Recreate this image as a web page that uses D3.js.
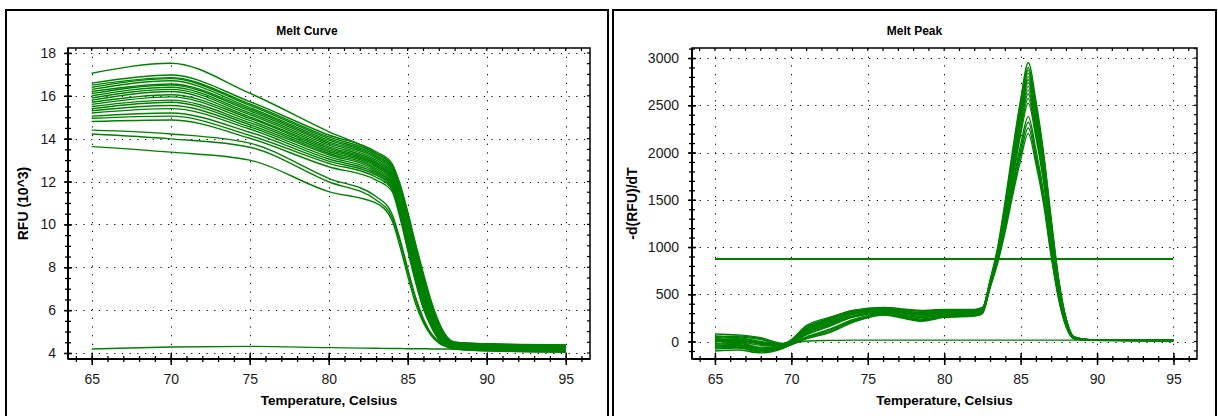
<!DOCTYPE html>
<html lang="en">
<head>
  <meta charset="UTF-8">
  <title>Melt Curve / Melt Peak</title>
  <script src="https://d3js.org/d3.v7.min.js"></script>
  <style>
    body { margin: 0; background: #fff; }
    svg { display: block; }
    text { font-family: "Liberation Sans", Arial, sans-serif; }
  </style>
</head>
<body>
  <div id="chart"></div>
<script type="text/javascript">
  // ---- Melt curve data (RFU x 10^3), one row per well ----
  var meltTemps = [65, 70, 75, 80, 83, 84, 84.5, 85, 85.5, 86, 86.5, 87, 87.5, 88, 90, 95];
  var meltWells = [
    [17.05, 17.52, 16.12, 14.33, 13.32, 12.75, 11.9, 10.6, 9.1, 7.7, 6.4, 5.4, 4.75, 4.5, 4.42, 4.36],
    [16.59, 16.97, 15.73, 14.17, 13.39, 12.85, 11.9, 10.5, 9.0, 7.6, 6.3, 5.3, 4.7, 4.5, 4.43, 4.38],
    [16.5, 16.85, 15.62, 14.08, 13.3, 12.75, 11.8, 10.4, 8.9, 7.5, 6.2, 5.25, 4.68, 4.48, 4.41, 4.36],
    [16.4, 16.8, 15.55, 14.0, 13.22, 12.68, 11.7, 10.3, 8.8, 7.4, 6.15, 5.2, 4.65, 4.46, 4.4, 4.34],
    [16.3, 16.7, 15.45, 13.93, 13.15, 12.6, 11.6, 10.2, 8.7, 7.3, 6.1, 5.15, 4.62, 4.44, 4.38, 4.32],
    [16.2, 16.55, 15.38, 13.85, 13.08, 12.52, 11.5, 10.05, 8.55, 7.2, 6.0, 5.1, 4.6, 4.42, 4.36, 4.3],
    [16.1, 16.5, 15.3, 13.78, 13.0, 12.45, 11.45, 10.0, 8.5, 7.15, 5.95, 5.05, 4.57, 4.4, 4.34, 4.29],
    [16.0, 16.4, 15.2, 13.7, 12.92, 12.37, 11.35, 9.9, 8.4, 7.05, 5.9, 5.0, 4.55, 4.38, 4.32, 4.27],
    [15.9, 16.3, 15.12, 13.62, 12.86, 12.3, 11.3, 9.85, 8.3, 6.95, 5.8, 4.95, 4.52, 4.37, 4.31, 4.26],
    [15.8, 16.2, 15.02, 13.55, 12.8, 12.24, 11.2, 9.7, 8.2, 6.9, 5.75, 4.9, 4.5, 4.35, 4.3, 4.25],
    [15.7, 16.05, 14.95, 13.48, 12.74, 12.18, 11.15, 9.65, 8.1, 6.8, 5.7, 4.88, 4.48, 4.34, 4.28, 4.23],
    [15.6, 15.95, 14.85, 13.4, 12.68, 12.1, 11.05, 9.55, 8.0, 6.7, 5.6, 4.83, 4.45, 4.32, 4.27, 4.22],
    [15.5, 15.8, 14.75, 13.32, 12.6, 12.03, 10.95, 9.45, 7.9, 6.6, 5.55, 4.8, 4.43, 4.3, 4.25, 4.2],
    [15.4, 15.7, 14.65, 13.25, 12.52, 11.95, 10.85, 9.35, 7.8, 6.5, 5.5, 4.75, 4.4, 4.28, 4.23, 4.18],
    [15.3, 15.55, 14.55, 13.15, 12.45, 11.88, 10.75, 9.2, 7.7, 6.45, 5.45, 4.72, 4.38, 4.26, 4.21, 4.16],
    [15.2, 15.4, 14.45, 13.05, 12.38, 11.8, 10.65, 9.1, 7.6, 6.35, 5.4, 4.7, 4.36, 4.25, 4.2, 4.14],
    [15.05, 15.2, 14.3, 12.95, 12.3, 11.72, 10.55, 9.0, 7.5, 6.25, 5.3, 4.65, 4.34, 4.23, 4.18, 4.12],
    [14.95, 15.05, 14.15, 12.85, 12.2, 11.65, 10.45, 8.9, 7.4, 6.15, 5.25, 4.62, 4.32, 4.22, 4.16, 4.1],
    [14.8, 14.87, 14.02, 12.69, 12.07, 11.55, 10.35, 8.8, 7.3, 6.05, 5.2, 4.6, 4.3, 4.2, 4.14, 4.08],
    [14.4, 14.22, 13.79, 12.15, 11.3, 10.5, 9.35, 7.95, 6.6, 5.6, 4.9, 4.52, 4.3, 4.2, 4.12, 4.06],
    [14.22, 13.99, 13.6, 11.99, 11.14, 10.35, 9.2, 7.8, 6.5, 5.5, 4.85, 4.5, 4.3, 4.18, 4.1, 4.05],
    [13.63, 13.37, 13.0, 11.53, 10.99, 10.2, 9.0, 7.6, 6.3, 5.4, 4.8, 4.45, 4.28, 4.18, 4.1, 4.04]
  ];
  // no-template control, stays flat
  var meltNTC = [4.19, 4.28, 4.31, 4.25, 4.22, 4.21, 4.21, 4.2, 4.2, 4.2, 4.19, 4.19, 4.19, 4.18, 4.17, 4.15];

  // ---- Melt peak data, -d(RFU)/dT ----
  var peakTemps = [65, 66.5, 68, 69.5, 71, 72.5, 74, 76, 78.5, 80, 82, 82.5, 83, 83.5, 84, 84.5, 85, 85.5, 86, 86.5, 87, 87.5, 88, 88.5, 89.5, 95];
  var peakWells = [
    [60, 50, 20, -40, 150, 250, 330, 360, 330, 340, 340, 360, 620, 950, 1450, 2000, 2550, 2950, 2550, 2000, 1300, 650, 230, 50, 20, 15],
    [-80, -70, -110, -60, 170, 255, 320, 350, 320, 330, 330, 350, 650, 1000, 1500, 2050, 2550, 2900, 2480, 1950, 1250, 620, 220, 45, 18, 12],
    [40, 60, 30, -30, 140, 240, 320, 355, 325, 335, 320, 340, 580, 900, 1400, 1950, 2500, 2870, 2500, 1980, 1280, 640, 225, 48, 20, 14],
    [-100, -90, -120, -70, 120, 220, 310, 340, 300, 320, 325, 345, 640, 980, 1460, 1980, 2480, 2840, 2420, 1900, 1200, 590, 200, 42, 18, 10],
    [80, 70, 40, -20, 160, 240, 325, 350, 310, 330, 335, 355, 610, 940, 1420, 1940, 2450, 2800, 2430, 1920, 1230, 610, 215, 45, 19, 13],
    [-50, -40, -90, -60, 130, 230, 300, 340, 300, 310, 320, 340, 600, 920, 1390, 1900, 2420, 2770, 2400, 1880, 1190, 590, 205, 42, 17, 11],
    [20, 30, -10, -45, 120, 210, 300, 330, 290, 305, 315, 340, 630, 950, 1420, 1910, 2400, 2740, 2360, 1850, 1160, 570, 200, 40, 16, 10],
    [-20, -10, -60, -50, 110, 200, 290, 325, 280, 300, 300, 325, 590, 900, 1360, 1850, 2350, 2700, 2330, 1830, 1150, 560, 195, 40, 17, 12],
    [50, 40, 0, -35, 100, 190, 285, 320, 285, 300, 310, 335, 620, 930, 1370, 1850, 2330, 2660, 2280, 1790, 1120, 550, 190, 38, 16, 11],
    [-70, -60, -100, -65, 90, 180, 270, 310, 270, 290, 300, 325, 600, 900, 1340, 1810, 2290, 2620, 2250, 1760, 1100, 540, 185, 38, 15, 10],
    [0, 10, -30, -50, 80, 170, 260, 305, 260, 285, 295, 320, 580, 880, 1310, 1770, 2240, 2570, 2200, 1720, 1080, 530, 180, 36, 15, 9],
    [-40, -30, -80, -60, 70, 160, 255, 300, 255, 280, 290, 315, 570, 860, 1280, 1730, 2190, 2520, 2160, 1690, 1060, 520, 175, 35, 14, 9],
    [30, 20, -20, -45, 50, 130, 230, 300, 240, 270, 285, 310, 600, 880, 1260, 1680, 2080, 2380, 2030, 1580, 980, 470, 160, 32, 14, 10],
    [-60, -50, -90, -60, 40, 120, 220, 290, 230, 265, 280, 305, 590, 860, 1230, 1640, 2030, 2320, 1980, 1540, 950, 460, 155, 30, 13, 9],
    [10, 0, -40, -50, 35, 105, 210, 285, 220, 260, 275, 300, 580, 850, 1200, 1600, 1980, 2260, 1930, 1500, 930, 450, 150, 30, 13, 9],
    [-30, -20, -70, -55, 30, 95, 200, 280, 215, 255, 270, 295, 570, 830, 1170, 1560, 1920, 2200, 1880, 1460, 900, 440, 145, 28, 12, 8]
  ];
  var peakNTC = [0, 5, -15, -30, 5, 12, 15, 15, 15, 15, 15, 15, 15, 15, 15, 15, 15, 15, 15, 15, 15, 15, 15, 15, 15, 12];
  var peakThreshold = 873;

  // ---- ticks ----
  var xMajorTicks = [65, 70, 75, 80, 85, 90, 95];
  var meltYTicks = [4, 6, 8, 10, 12, 14, 16, 18];
  var peakYTicks = [0, 500, 1000, 1500, 2000, 2500, 3000];

  var green = "#008000";
  var svg = d3.select("#chart").append("svg").attr("width", 1218).attr("height", 416);

  function drawPanel(c) {
    var g = svg.append("g");

    // outer panel border (runs off the bottom of the window)
    g.append("rect")
      .attr("x", c.box[0]).attr("y", c.box[1])
      .attr("width", c.box[2] - c.box[0]).attr("height", 460)
      .attr("fill", "none").attr("stroke", "#000").attr("stroke-width", 2);

    var x = d3.scaleLinear().domain([63.5, 96.54]).range([c.left, c.right]);
    var y = d3.scaleLinear().domain(c.yDomain).range([c.bottom, c.top]);

    g.append("text")
      .attr("x", (c.box[0] + c.box[2]) / 2).attr("y", 35)
      .attr("text-anchor", "middle").attr("font-size", 12).attr("font-weight", "bold")
      .text(c.title);

    // dotted grid
    g.selectAll(".hgrid").data(c.yTicks).enter().append("line")
      .attr("x1", c.left).attr("x2", c.right)
      .attr("y1", function (d) { return Math.round(y(d)) + 0.5; })
      .attr("y2", function (d) { return Math.round(y(d)) + 0.5; })
      .attr("stroke", "#000").attr("stroke-dasharray", "1.2,6.5");
    g.selectAll(".vgrid").data(xMajorTicks).enter().append("line")
      .attr("y1", c.top).attr("y2", c.bottom)
      .attr("x1", function (d) { return Math.round(x(d)) + 0.5; })
      .attr("x2", function (d) { return Math.round(x(d)) + 0.5; })
      .attr("stroke", "#000").attr("stroke-dasharray", "1.2,7.5");

    var line = d3.line()
      .x(function (d, i) { return x(c.temps[i]); })
      .y(function (d) { return y(d); })
      .curve(d3.curveMonotoneX);

    g.selectAll(".well").data(c.wells.concat([c.ntc])).enter().append("path")
      .attr("d", line)
      .attr("fill", "none").attr("stroke", green)
      .attr("stroke-width", 1.4);

    if (c.threshold !== undefined) {
      g.append("line")
        .attr("x1", x(65)).attr("x2", x(95))
        .attr("y1", y(c.threshold)).attr("y2", y(c.threshold))
        .attr("stroke", green).attr("stroke-width", 2);
    }

    // plot frame
    g.append("rect")
      .attr("x", c.left).attr("y", c.top)
      .attr("width", c.right - c.left).attr("height", c.bottom - c.top)
      .attr("fill", "none").attr("stroke", "#000").attr("stroke-width", 1.5);

    // inward minor ticks on top and right edges
    g.selectAll(".topTick").data(d3.range(64, 97)).enter().append("line")
      .attr("x1", function (d) { return x(d); }).attr("x2", function (d) { return x(d); })
      .attr("y1", c.top).attr("y2", c.top + 3)
      .attr("stroke", "#000").attr("stroke-width", 1.2);
    g.selectAll(".rightTick").data(c.yMinor).enter().append("line")
      .attr("y1", function (d) { return y(d); }).attr("y2", function (d) { return y(d); })
      .attr("x1", c.right).attr("x2", c.right - 3)
      .attr("stroke", "#000").attr("stroke-width", 1.2);

    // bottom axis: minor ticks then majors with labels
    var xMinorAxis = g.append("g").attr("transform", "translate(0," + c.bottom + ")")
      .call(d3.axisBottom(x).tickValues(d3.range(64, 97)).tickSize(3).tickFormat(""));
    xMinorAxis.select(".domain").remove();
    xMinorAxis.selectAll(".tick line").attr("y1", -3).attr("stroke-width", 1.3);

    var xAxis = g.append("g").attr("transform", "translate(0," + c.bottom + ")")
      .call(d3.axisBottom(x).tickValues(xMajorTicks).tickSize(6).tickPadding(9).tickFormat(d3.format("d")));
    xAxis.select(".domain").remove();
    xAxis.selectAll(".tick line").attr("y1", -6).attr("stroke-width", 1.5);
    xAxis.selectAll("text").attr("font-size", 14).attr("fill", "#1a1a1a")
      .attr("font-family", "'Liberation Sans', Arial, sans-serif");

    // left axis
    var yMinorAxis = g.append("g").attr("transform", "translate(" + c.left + ",0)")
      .call(d3.axisLeft(y).tickValues(c.yMinor).tickSize(3).tickFormat(""));
    yMinorAxis.select(".domain").remove();
    yMinorAxis.selectAll(".tick line").attr("x1", 3).attr("stroke-width", 1.3);

    var yAxis = g.append("g").attr("transform", "translate(" + c.left + ",0)")
      .call(d3.axisLeft(y).tickValues(c.yTicks).tickSize(4).tickPadding(c.yPad).tickFormat(d3.format("d")));
    yAxis.select(".domain").remove();
    yAxis.selectAll(".tick line").attr("x1", 4).attr("stroke-width", 1.5);
    yAxis.selectAll("text").attr("font-size", 14).attr("fill", "#1a1a1a")
      .attr("font-family", "'Liberation Sans', Arial, sans-serif");

    // heavier axis lines
    g.append("line").attr("x1", c.left).attr("x2", c.right).attr("y1", c.bottom).attr("y2", c.bottom)
      .attr("stroke", "#000").attr("stroke-width", 2);
    g.append("line").attr("x1", c.left).attr("x2", c.left).attr("y1", c.top).attr("y2", c.bottom)
      .attr("stroke", "#000").attr("stroke-width", 2);

    // axis titles
    g.append("text")
      .attr("x", (c.left + c.right) / 2).attr("y", 405)
      .attr("text-anchor", "middle").attr("font-size", 13.5).attr("font-weight", "bold")
      .text("Temperature, Celsius");
    g.append("text")
      .attr("transform", "translate(" + c.yTitleX + "," + (c.top + c.bottom) / 2 + ") rotate(-90)")
      .attr("text-anchor", "middle").attr("font-size", 14).attr("font-weight", "bold")
      .text(c.yTitle);
  }

  drawPanel({
    title: "Melt Curve", box: [6, 10, 608],
    left: 68, right: 590, top: 48, bottom: 359,
    yDomain: [3.72, 18.23], yTicks: meltYTicks, yMinor: d3.range(4, 18.01, 0.5),
    yPad: 8, yTitle: "RFU (10^3)", yTitleX: 28,
    temps: meltTemps, wells: meltWells, ntc: meltNTC
  });

  drawPanel({
    title: "Melt Peak", box: [613, 10, 1216],
    left: 692, right: 1197, top: 48, bottom: 359,
    yDomain: [-185, 3106], yTicks: peakYTicks, yMinor: d3.range(-100, 3101, 100),
    yPad: 9, yTitle: "-d(RFU)/dT", yTitleX: 637,
    temps: peakTemps, wells: peakWells, ntc: peakNTC, threshold: peakThreshold
  });
</script>
</body>
</html>
